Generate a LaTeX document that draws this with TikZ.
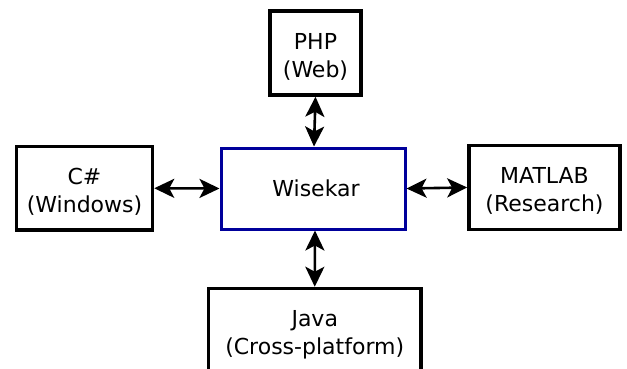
\documentclass[tikz,border=0pt]{standalone}
\usepackage{fontspec}
\setmainfont{DejaVu Sans}
\usetikzlibrary{arrows.meta}
\definecolor{wblue}{RGB}{0,0,155}
\newcommand\dnstrut{\rule{0pt}{23pt}}
\begin{document}
\begin{tikzpicture}[x=1pt,y=-1pt,
  box/.style={draw=black,line width=3.5pt,rectangle,align=center,inner sep=0pt,
    font=\fontsize{22}{28}\selectfont},
  link/.style={line width=2.6pt,{Stealth[length=20pt,width=19pt,inset=5pt]}-{Stealth[length=20pt,width=19pt,inset=5pt]}}]
\useasboundingbox (0,0) rectangle (627,369);
\clip (0,0) rectangle (627,369);
\node[box,minimum width=91pt,minimum height=84pt] (php) at (315.5,53) {\dnstrut PHP\\(Web)};
\node[box,minimum width=136pt,minimum height=83.5pt] (cs) at (84.5,188.25) {\dnstrut C\#\\(Windows)};
\node[box,draw=wblue,line width=3pt,minimum width=184pt,minimum height=81pt] (w) at (313,188.5) {\hspace*{6pt}Wisekar};
\node[box,minimum width=151pt,minimum height=84pt] (m) at (544.5,187.5) {\dnstrut MATLAB\\(Research)};
\node[box,minimum width=212.5pt,minimum height=86pt] (j) at (314.75,331.5) {\dnstrut Java\\(Cross-platform)};
\draw[link] (cs.east) -- (w.west);
\draw[link] (w.east) -- (m.west);
\draw[link] (php.south) -- ([xshift=1pt]w.north);
\draw[link] ([xshift=2pt]w.south) -- (j.north);
\end{tikzpicture}
\end{document}
